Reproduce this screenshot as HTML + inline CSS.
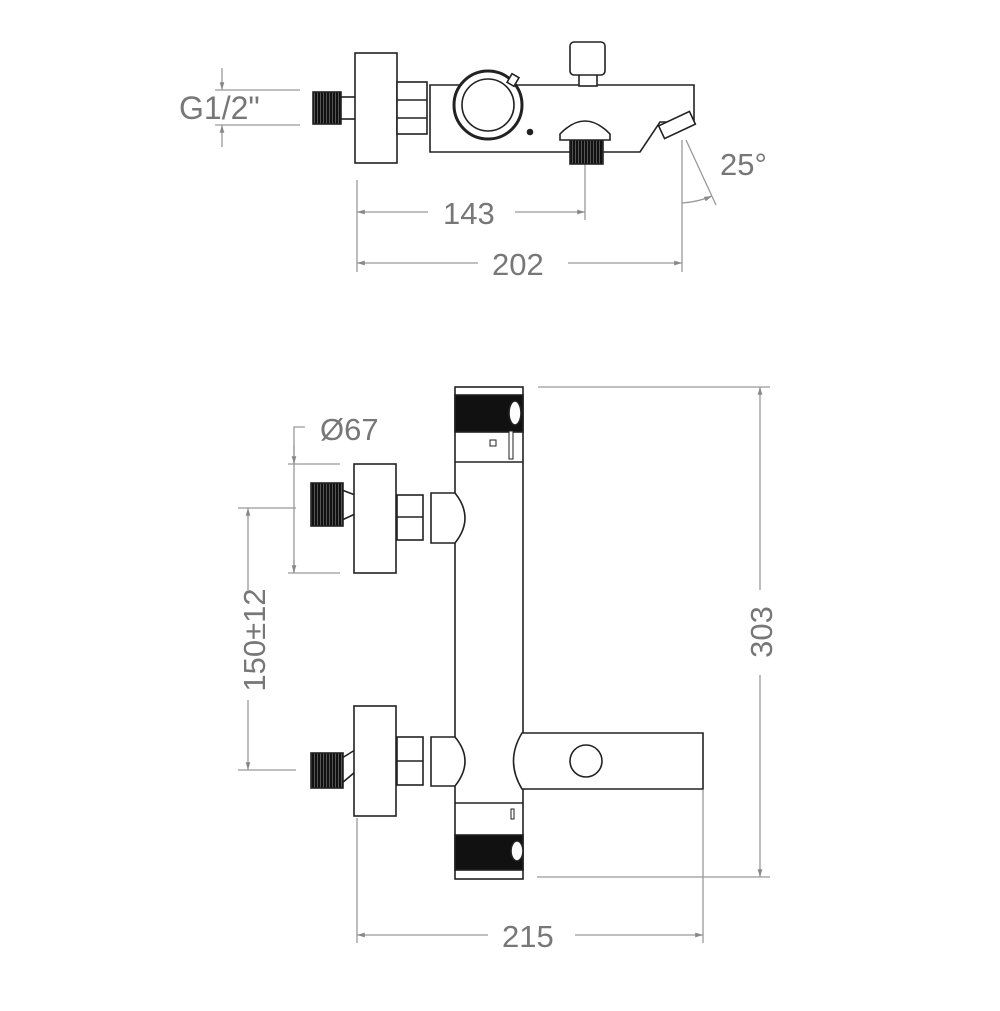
<!DOCTYPE html>
<html><head><style>body{margin:0;background:#fff}svg{display:block}</style></head><body>
<svg width="1000" height="1011" viewBox="0 0 1000 1011" xmlns="http://www.w3.org/2000/svg" font-family="Liberation Sans, sans-serif">
<defs>
<marker id="a" viewBox="0 0 10 10" refX="10" refY="5" markerWidth="10" markerHeight="6" orient="auto-start-reverse"><path d="M0,2 L10,5 L0,8z" fill="#888"/></marker>
<pattern id="th" width="3" height="4" patternUnits="userSpaceOnUse"><rect width="3" height="4" fill="#555"/><rect width="2" height="4" fill="#111"/></pattern>
</defs>
<g stroke="#999" stroke-width="1.3" fill="none">
<line x1="215" y1="90" x2="300" y2="90"/><line x1="215" y1="125" x2="300" y2="125"/>
<line x1="222" y1="68" x2="222" y2="90" marker-end="url(#a)"/><line x1="222" y1="147" x2="222" y2="125" marker-end="url(#a)"/>
<line x1="357" y1="180" x2="357" y2="272"/><line x1="585" y1="140" x2="585" y2="220"/><line x1="682" y1="140" x2="682" y2="272"/>
<line x1="357" y1="212" x2="428" y2="212" marker-start="url(#a)"/><line x1="515" y1="212" x2="585" y2="212" marker-end="url(#a)"/>
<line x1="357" y1="263" x2="478" y2="263" marker-start="url(#a)"/><line x1="568" y1="263" x2="682" y2="263" marker-end="url(#a)"/>
<line x1="686" y1="140" x2="716" y2="205"/>
<path d="M682,203 Q698,202 712,196" marker-end="url(#a)"/>
<line x1="288" y1="464" x2="340" y2="464"/><line x1="288" y1="573" x2="340" y2="573"/>
<path d="M305,427 H294 V573"/>
<line x1="294" y1="445" x2="294" y2="464" marker-end="url(#a)"/><line x1="294" y1="560" x2="294" y2="573" marker-end="url(#a)"/>
<line x1="238" y1="508" x2="296" y2="508"/><line x1="238" y1="770" x2="296" y2="770"/>
<line x1="248" y1="508" x2="248" y2="590" marker-start="url(#a)"/><line x1="248" y1="700" x2="248" y2="770" marker-end="url(#a)"/>
<line x1="538" y1="387" x2="770" y2="387"/><line x1="537" y1="877" x2="770" y2="877"/>
<line x1="760" y1="387" x2="760" y2="590" marker-start="url(#a)"/><line x1="760" y1="675" x2="760" y2="877" marker-end="url(#a)"/>
<line x1="357" y1="818" x2="357" y2="943"/><line x1="703" y1="790" x2="703" y2="943"/>
<line x1="357" y1="935" x2="488" y2="935" marker-start="url(#a)"/><line x1="575" y1="935" x2="703" y2="935" marker-end="url(#a)"/>
</g>
<g fill="#777" font-size="31">
<text x="179" y="119" font-size="32">G1/2"</text>
<text x="443" y="224">143</text>
<text x="492" y="275">202</text>
<text x="720" y="175">25°</text>
<text x="320" y="440">Ø67</text>
<text x="502" y="947">215</text>
<text transform="translate(265,640) rotate(-90)" text-anchor="middle">150±12</text>
<text transform="translate(772,632) rotate(-90)" text-anchor="middle">303</text>
</g>
<g stroke="#222" stroke-width="1.6" fill="#fff">
<rect x="340" y="97" width="16" height="22"/>
<rect x="313" y="92" width="28" height="32" fill="url(#th)"/>
<rect x="355" y="53" width="42" height="110"/>
<rect x="397" y="82" width="30" height="52"/>
<line x1="397" y1="100" x2="427" y2="100"/><line x1="397" y1="118" x2="427" y2="118"/>
<path d="M430,85 H694 V122 L660,122 L640,152 H430 Z"/>
<rect x="579" y="74" width="18" height="12"/>
<rect x="570" y="42" width="35" height="33" rx="4"/>
<g transform="rotate(-25 677 125)"><rect x="660" y="118" width="34" height="14"/></g>
<rect x="570" y="140" width="33" height="24" fill="url(#th)"/>
<path d="M560,140 L560,134 Q585,108 610,134 L610,140 Z"/>
<circle cx="488" cy="105" r="34" stroke-width="3"/><circle cx="488" cy="105" r="26"/>
<rect x="509" y="75" width="8" height="10" transform="rotate(30 513 80)"/>
<circle cx="530" cy="132" r="2.5" fill="#222"/>
<rect x="455" y="387" width="68" height="492"/>
<rect x="455" y="395" width="68" height="37" fill="#111"/>
<line x1="455" y1="462" x2="523" y2="462"/>
<ellipse cx="515" cy="413" rx="6" ry="12" fill="#fff"/>
<rect x="490" y="440" width="6" height="6" stroke-width="1"/>
<rect x="509" y="431" width="4" height="28" stroke-width="1"/>
<line x1="455" y1="803" x2="523" y2="803"/>
<rect x="455" y="835" width="68" height="35" fill="#111"/>
<ellipse cx="517" cy="851" rx="6" ry="10" fill="#fff"/>
<rect x="511" y="809" width="3" height="10" stroke-width="1"/>
<path d="M522,733 H703 V789 H522 Q505,761 522,733 Z"/>
<circle cx="586" cy="761" r="16"/>
<path d="M342,490 L355,495 M342,520 L355,514" />
<rect x="311" y="483" width="32" height="43" fill="url(#th)"/>
<rect x="354" y="464" width="42" height="109"/>
<rect x="397" y="495" width="26" height="45"/><line x1="397" y1="517" x2="423" y2="517"/>
<path d="M431,493 H455 Q475,518 455,543 H431 Z"/>
<path d="M342,758 L355,750 M342,783 L355,772" />
<rect x="311" y="753" width="32" height="35" fill="url(#th)"/>
<rect x="354" y="706" width="42" height="110"/>
<rect x="397" y="737" width="26" height="48"/><line x1="397" y1="761" x2="423" y2="761"/>
<path d="M431,737 H455 Q475,761 455,786 H431 Z"/>
</g>
</svg>
</body></html>
